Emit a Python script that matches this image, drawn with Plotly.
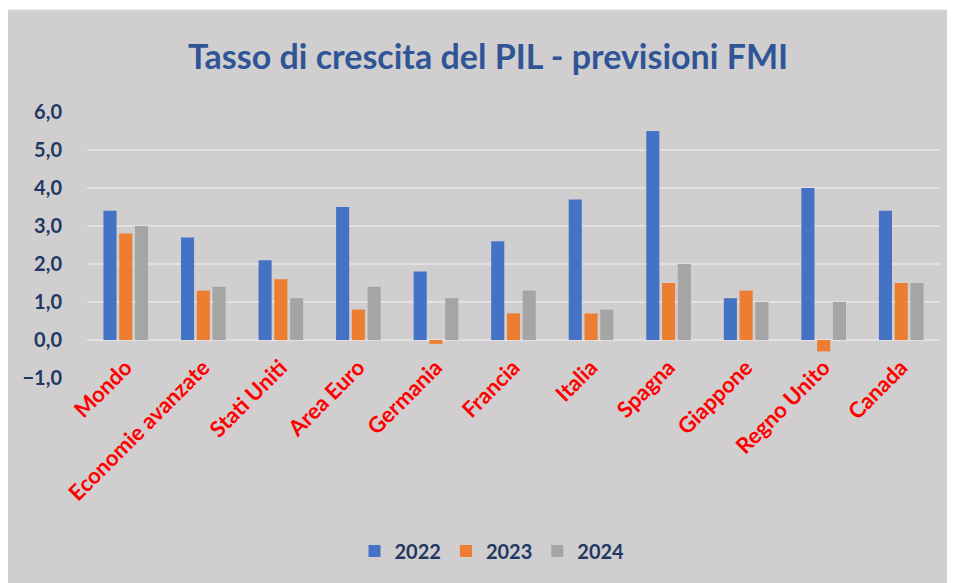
import plotly.graph_objects as go

categories = ["Mondo", "Economie avanzate", "Stati Uniti", "Area Euro", "Germania",
              "Francia", "Italia", "Spagna", "Giappone", "Regno Unito", "Canada"]
series_names = ["2022", "2023", "2024"]
values_2022 = [3.4, 2.7, 2.1, 3.5, 1.8, 2.6, 3.7, 5.5, 1.1, 4.0, 3.4]
values_2023 = [2.8, 1.3, 1.6, 0.8, -0.1, 0.7, 0.7, 1.5, 1.3, -0.3, 1.5]
values_2024 = [3.0, 1.4, 1.1, 1.4, 1.1, 1.3, 0.8, 2.0, 1.0, 1.0, 1.5]
y_ticks = [-1, 0, 1, 2, 3, 4, 5, 6]

colors = ["#4472C4", "#ED7D31", "#A5A5A5"]
FONT = "Lato"
NAVY = "#1F3864"

# the page body adds an 8px margin, so work in page pixels and shift
OFF = 8
W, H = 955 - OFF, 583 - OFF
PL, PR, PT, PB = 87, 940, 112, 378          # plot area in page pixels
ML, MR, MT, MB = PL - OFF, W - (PR - OFF), PT - OFF, H - (PB - OFF)
pw, ph = W - ML - MR, H - MT - MB


def px_x(p):
    return (p - PL) / pw


def px_y(p):
    return (PB - p) / ph


fig = go.Figure()
for name, vals, col in zip(series_names, [values_2022, values_2023, values_2024], colors):
    fig.add_trace(go.Bar(x=categories, y=vals, name=name, marker_color=col,
                         marker_line_width=0))

fig.update_layout(
    width=W, height=H,
    margin=dict(l=ML, r=MR, t=MT, b=MB),
    paper_bgcolor="white",
    plot_bgcolor="#D0CECE",
    separators=",.",
    barmode="group",
    bargap=0.39,
    bargroupgap=0.17,
    title=dict(text="<b>Tasso di crescita del PIL - previsioni FMI</b>",
               font=dict(family=FONT, size=34, color="#2F5597"),
               x=(488 - OFF) / W, xanchor="center",
               y=1 - (57 - OFF) / H, yanchor="middle"),
    font=dict(family=FONT),
    showlegend=True,
    legend=dict(orientation="h", x=px_x(492), xanchor="center",
                y=px_y(551), yanchor="middle",
                font=dict(family=FONT, size=20, color=NAVY, weight="bold"),
                bgcolor="rgba(0,0,0,0)", traceorder="normal",
                itemwidth=30),
    shapes=[dict(type="rect", xref="paper", yref="paper",
                 x0=px_x(7), x1=px_x(960), y0=px_y(590), y1=px_y(10),
                 fillcolor="#D0CECE", line=dict(color="#D9D9D9", width=1),
                 layer="below")],
)
fig.update_xaxes(
    anchor="free", position=1 / 7,
    showgrid=False, showline=False, zeroline=False,
    tickangle=-45,
    tickfont=dict(family=FONT, size=22, color="#FF0000", weight="bold"),
    ticks="outside", ticklen=5, tickcolor="rgba(0,0,0,0)",
)
fig.update_yaxes(
    range=[-1, 6], tickvals=y_ticks, tickformat=".1f",
    showgrid=True, gridcolor="#E2E0E0", gridwidth=1.5,
    zeroline=False, showline=False,
    tickfont=dict(family=FONT, size=20, color=NAVY, weight="bold"),
    ticks="outside", ticklen=20, tickcolor="rgba(0,0,0,0)",
)

fig.write_html("out.html")
